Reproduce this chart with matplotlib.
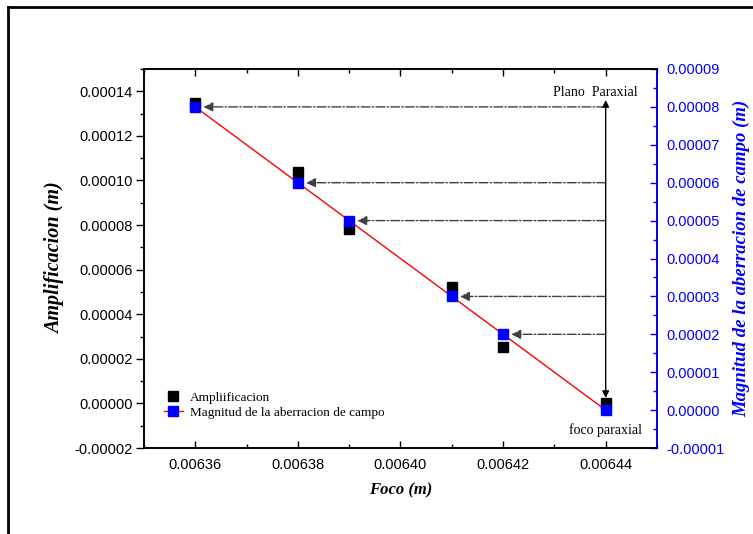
import matplotlib
matplotlib.use("Agg")
import matplotlib.pyplot as plt
from matplotlib.lines import Line2D
from matplotlib.ticker import MultipleLocator, FormatStrFormatter

# ============================================================
#  Datos
# ============================================================
foco = [0.00636, 0.00638, 0.00639, 0.00641, 0.00642, 0.00644]
amplificacion = [0.0001347, 0.0001038, 0.0000782, 0.0000522, 0.0000253, 0.0]
aberracion = [0.00008, 0.00006, 0.00005, 0.00003, 0.00002, 0.0]

foco_paraxial = 0.00644
flecha_y = [0.00008, 0.00006, 0.00005, 0.00003, 0.00002]

plt.rcParams["font.family"] = ["Liberation Sans", "DejaVu Sans"]
serif = ["Liberation Serif", "DejaVu Serif"]

fig = plt.figure(figsize=(7.53, 5.34), dpi=100)
ax = fig.add_axes([0.1912, 0.161, 0.6813, 0.7098])
ax2 = ax.twinx()

# marco de la figura (solo arriba e izquierda)
fig.add_artist(Line2D([0.011, 1.0], [0.987, 0.987], transform=fig.transFigure,
                      color="black", linewidth=2))
fig.add_artist(Line2D([0.011, 0.011], [0.0, 0.987], transform=fig.transFigure,
                      color="black", linewidth=2))

# ============================================================
#  Series
# ============================================================
h1, = ax.plot(foco, amplificacion, "s", color="black", markersize=7,
              label="Ampliificacion", zorder=3)
ax2.plot(foco, aberracion, "-", color="red", linewidth=1, zorder=2)
ax2.plot(foco, aberracion, "s", color="blue", markersize=7, zorder=4)
h2 = Line2D([], [], color="red", linewidth=1, marker="s",
            markerfacecolor="blue", markeredgecolor="blue", markersize=7)

# flechas horizontales
for y, x in zip(flecha_y, foco[:-1]):
    ax2.annotate("", xy=(x + 0.0000016, y), xytext=(foco_paraxial, y),
                 arrowprops=dict(arrowstyle="-|>", color="#404040",
                                 linestyle="-.", linewidth=1,
                                 mutation_scale=14, shrinkA=0, shrinkB=0))

# flecha vertical
ax2.annotate("", xy=(foco_paraxial, 0.0000818), xytext=(foco_paraxial, 0.0000032),
             arrowprops=dict(arrowstyle="<|-|>", color="black", linewidth=1,
                             mutation_scale=10, shrinkA=0, shrinkB=0))
ax2.text(foco_paraxial - 0.0000021, 0.0000837, "Plano  Paraxial", ha="center",
         va="center", fontsize=10, family=serif)
ax2.text(foco_paraxial, -0.0000053, "foco paraxial", ha="center",
         va="center", fontsize=10, family=serif)

# ============================================================
#  Ejes
# ============================================================
ax.set_xlim(0.00635, 0.00645)
ax.set_ylim(-0.00002, 0.00015)
ax2.set_ylim(-0.00001, 0.00009)

ax.xaxis.set_major_locator(MultipleLocator(0.00002))
ax.xaxis.set_minor_locator(MultipleLocator(0.00001))
ax.yaxis.set_major_locator(MultipleLocator(0.00002))
ax.yaxis.set_minor_locator(MultipleLocator(0.00001))
ax2.yaxis.set_major_locator(MultipleLocator(0.00001))
ax2.yaxis.set_minor_locator(MultipleLocator(0.000005))
ax.xaxis.set_major_formatter(FormatStrFormatter("%.5f"))
ax.yaxis.set_major_formatter(FormatStrFormatter("%.5f"))
ax2.yaxis.set_major_formatter(FormatStrFormatter("%.5f"))

ax.tick_params(axis="x", which="both", direction="in", top=True,
               labelsize=10.5, pad=7)
ax.tick_params(axis="x", which="major", length=5, width=1)
ax.tick_params(axis="x", which="minor", length=3, width=1)
ax.tick_params(axis="y", which="both", direction="out", labelsize=10.5, pad=2)
ax.tick_params(axis="y", which="major", length=6, width=1)
ax.tick_params(axis="y", which="minor", length=3, width=1)
ax2.tick_params(axis="y", which="both", direction="in", colors="blue",
                labelsize=10.5, pad=7)
ax2.tick_params(axis="y", which="major", length=5, width=1)
ax2.tick_params(axis="y", which="minor", length=3, width=1)

for s in ax.spines.values():
    s.set_linewidth(1.2)
for s in ax2.spines.values():
    s.set_linewidth(1.2)
ax2.spines["right"].set_color("blue")

ax.set_xlabel("Foco (m)", fontsize=12, fontweight="bold", style="italic",
              family=serif, labelpad=8)
ax.set_ylabel("Amplificacion (m)", fontsize=14.5, fontweight="bold", style="italic",
              family=serif, labelpad=7)
ax2.set_ylabel("Magnitud de la aberracion de campo (m)", fontsize=13.5,
               fontweight="bold", style="italic", family=serif, color="blue",
               labelpad=6)

ax2.legend([h1, h2], ["Ampliificacion", "Magnitud de la aberracion de campo"],
           loc="lower left", bbox_to_anchor=(0.015, 0.045), frameon=False,
           prop={"family": serif, "size": 9.5}, handlelength=1.5,
           handletextpad=0.5, labelspacing=0.25)

plt.savefig("out.png", dpi=100)
